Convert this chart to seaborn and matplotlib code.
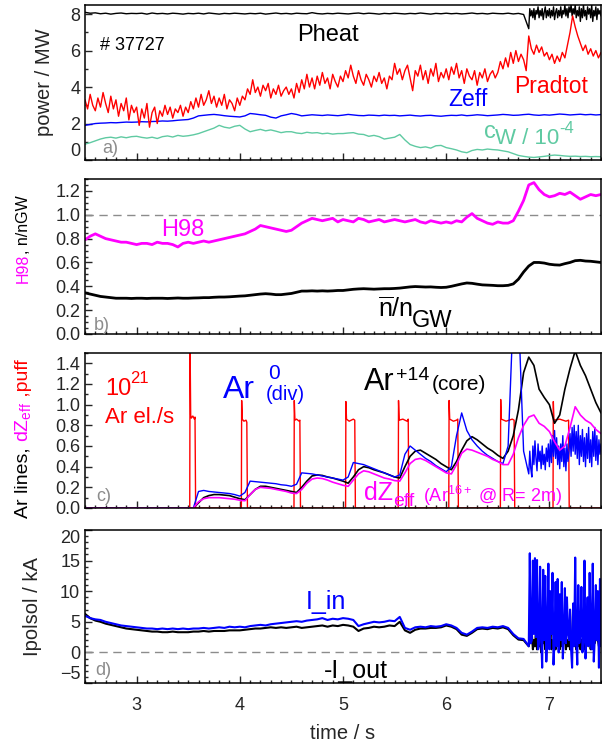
import numpy as np
import matplotlib
matplotlib.use("Agg")
import matplotlib.pyplot as plt
import seaborn as sns
from matplotlib.ticker import MultipleLocator

# ---------------------------------------------------------------------------
# data (# 37727), time in s
# ---------------------------------------------------------------------------
t_coarse = np.round(np.arange(2.5, 7.5001, 0.05), 3)      # 101 samples
t_rad = np.round(np.arange(2.5, 7.5001, 0.025), 3)        # 201 samples
t_fast = np.round(np.arange(6.80, 7.5001, 0.01), 3)       # 71 samples
t_split = np.concatenate([t_coarse[:86], t_fast])         # 2.5..6.75 + fast part

# a) power / MW
pheat = [
    8.10, 8.05, 8.07, 8.02, 8.05, 8.00, 8.04, 8.06, 8.02, 8.04,
    8.03, 8.05, 8.00, 8.06, 8.02, 8.04, 8.01, 8.05, 8.03, 8.00,
    8.04, 8.02, 8.05, 8.01, 8.06, 8.03, 8.00, 8.04, 8.02, 8.05,
    8.03, 8.01, 8.04, 8.02, 8.05, 8.00, 8.03, 8.06, 8.02, 8.04,
    8.01, 8.05, 8.03, 8.02, 8.08, 8.03, 8.01, 8.04, 8.02, 8.05,
    8.03, 8.01, 8.04, 8.06, 8.02, 8.05, 8.03, 8.00, 8.04, 8.02,
    8.05, 8.03, 8.01, 8.04, 8.02, 8.06, 8.03, 8.00, 8.04, 8.02,
    8.05, 8.02, 8.04, 8.01, 8.03, 8.06, 8.02, 8.04, 8.01, 8.05,
    8.03, 8.02, 8.05, 8.01, 8.04, 7.98,
    7.2, 8.3, 7.9, 8.2, 7.8, 8.3, 7.7, 8.2, 8.0, 8.4,
    7.8, 8.2, 7.9, 8.3, 7.7, 8.1, 8.4, 7.8, 8.2, 7.9,
    8.3, 7.8, 8.2, 7.9, 8.4, 7.7, 8.1, 8.3, 7.8, 8.2,
    7.9, 8.4, 7.8, 8.2, 8.0, 8.5, 7.9, 8.3, 7.8, 8.4,
    8.1, 8.5, 7.9, 8.3, 8.0, 8.5, 7.8, 8.2, 7.9, 8.4,
    7.6, 8.3, 7.8, 8.5, 7.9, 8.2, 7.7, 8.4, 8.0, 8.3,
    7.8, 8.5, 7.6, 8.2, 7.9, 8.4, 7.7, 8.3, 8.0, 8.2,
    7.9]
pradtot = [
    3.3, 2.8, 3.6, 3.0, 2.7, 3.4, 2.9, 3.7, 3.1, 2.6,
    3.5, 2.8, 3.3, 2.4, 3.1, 2.7, 3.4, 2.2, 3.0, 2.6,
    2.9, 1.9, 2.8, 2.3, 3.1, 1.8, 2.6, 2.9, 2.0, 2.7,
    2.4, 3.0, 2.5, 2.9, 2.3, 2.8, 2.6, 3.0, 2.4, 2.9,
    2.6, 3.2, 2.8, 3.4, 2.9, 3.6, 3.0, 3.3, 3.8, 3.1,
    3.5, 2.9, 3.4, 3.0, 3.6, 2.8, 3.3, 3.1, 2.7, 3.4,
    3.0, 3.5, 3.3, 3.9, 3.6, 4.4, 3.7, 4.0, 3.5, 4.1,
    3.8, 4.2, 3.4, 3.9, 3.6, 4.1, 3.5, 3.8, 4.0, 3.6,
    3.9, 3.4, 4.2, 3.7, 4.4, 3.9, 4.7, 4.0, 4.5, 3.9,
    4.6, 4.1, 4.8, 4.2, 4.5, 3.9, 4.7, 4.3, 4.0, 4.6,
    4.3, 4.9, 4.5, 5.2, 4.6, 4.2, 4.9, 4.4, 4.1, 4.7,
    4.4, 4.0, 4.6, 4.3, 4.8, 4.2, 4.5, 3.9, 4.6, 4.4,
    5.3, 4.7, 5.0, 4.4, 4.9, 5.2, 4.5, 3.8, 4.9, 4.6,
    5.2, 4.4, 4.9, 4.2, 5.0, 4.6, 5.3, 4.3, 4.8, 4.5,
    5.0, 4.4, 5.1, 4.7, 5.3, 4.5, 4.9, 4.2, 5.0, 4.6,
    4.4, 4.9, 4.1, 4.8, 4.5, 5.0, 4.3, 4.7, 4.9, 4.5,
    4.8, 5.4, 5.0, 5.6, 5.1, 5.9, 5.3, 6.0, 5.4, 5.8,
    5.5, 4.9, 6.8, 6.1, 5.8, 6.3, 5.9, 6.2, 5.7, 5.9,
    5.5, 5.8, 5.3, 5.7, 5.4, 5.9, 5.6, 6.3, 7.0, 7.9,
    7.3, 6.8, 6.4, 6.0, 6.3, 5.8, 6.1, 5.7, 6.0, 5.6,
    5.9]
zeff = [
    1.90, 1.95, 2.00, 2.02, 2.03, 2.05, 2.04, 2.06, 2.08, 2.07,
    2.08, 2.10, 2.09, 2.11, 2.12, 2.14, 2.13, 2.15, 2.18, 2.20,
    2.22, 2.30, 2.42, 2.45, 2.48, 2.50, 2.47, 2.43, 2.40, 2.38,
    2.36, 2.42, 2.55, 2.52, 2.48, 2.45, 2.35, 2.30, 2.42, 2.48,
    2.55, 2.50, 2.42, 2.45, 2.48, 2.46, 2.44, 2.47, 2.45, 2.43,
    2.46, 2.50, 2.47, 2.44, 2.43, 2.46, 2.45, 2.43, 2.46, 2.44,
    2.45, 2.42, 2.44, 2.46, 2.43, 2.41, 2.44, 2.45, 2.42, 2.40,
    2.43, 2.45, 2.44, 2.47, 2.43, 2.45, 2.48, 2.46, 2.43, 2.45,
    2.47, 2.50, 2.48, 2.45, 2.46, 2.49, 2.51, 2.47, 2.45, 2.48,
    2.46, 2.49, 2.52, 2.50, 2.47, 2.49, 2.51, 2.48, 2.50, 2.47,
    2.49]
cw = [
    0.87, 0.95, 1.05, 1.15, 1.22, 1.25, 1.20, 1.27, 1.22, 1.28,
    1.30, 1.24, 1.20, 1.25, 1.18, 1.28, 1.32, 1.26, 1.35, 1.30,
    1.33, 1.38, 1.45, 1.55, 1.65, 1.75, 1.90, 1.80, 1.75, 1.85,
    1.90, 1.70, 1.55, 1.62, 1.68, 1.60, 1.65, 1.58, 1.50, 1.55,
    1.55, 1.48, 1.45, 1.52, 1.48, 1.50, 1.44, 1.47, 1.42, 1.45,
    1.45, 1.48, 1.50, 1.42, 1.40, 1.30, 1.35, 1.28, 1.15, 1.20,
    1.25, 1.40, 1.10, 0.85, 0.75, 0.68, 0.72, 0.65, 0.78, 0.80,
    0.68, 0.62, 0.55, 0.45, 0.40, 0.52, 0.58, 0.55, 0.60, 0.57,
    0.55, 0.50, 0.45, 0.35, 0.25, 0.20, 0.16, 0.14, 0.17, 0.20,
    0.24, 0.27, 0.25, 0.22, 0.20, 0.21, 0.19, 0.20, 0.18, 0.19,
    0.18]

# b) H98 and line averaged density / Greenwald
h98 = [
    0.79, 0.82, 0.84, 0.82, 0.80, 0.79, 0.78, 0.77, 0.77, 0.76,
    0.75, 0.76, 0.76, 0.75, 0.77, 0.76, 0.76, 0.75, 0.73, 0.76,
    0.77, 0.76, 0.77, 0.78, 0.77, 0.78, 0.79, 0.80, 0.81, 0.82,
    0.83, 0.84, 0.86, 0.88, 0.91, 0.90, 0.89, 0.88, 0.87, 0.86,
    0.87, 0.90, 0.93, 0.95, 0.97, 0.96, 0.95, 0.96, 0.97, 0.94,
    0.96, 0.95, 0.94, 0.97, 0.96, 0.94, 0.95, 0.96, 0.94, 0.95,
    0.96, 0.95, 0.94, 0.95, 0.96, 0.94, 0.93, 0.95, 0.94, 0.93,
    0.94, 0.93, 0.95, 0.94, 0.98, 1.01, 0.97, 0.95, 0.93, 0.92,
    0.94, 0.93, 0.93, 0.95, 1.03, 1.12, 1.25, 1.27, 1.21, 1.17,
    1.15, 1.16, 1.18, 1.17, 1.19, 1.16, 1.13, 1.15, 1.17, 1.16,
    1.17]
n_gw = [
    0.345, 0.335, 0.325, 0.315, 0.310, 0.305, 0.300, 0.300, 0.300, 0.298,
    0.300, 0.300, 0.298, 0.300, 0.300, 0.300, 0.298, 0.300, 0.302, 0.300,
    0.300, 0.302, 0.303, 0.305, 0.305, 0.308, 0.310, 0.310, 0.312, 0.315,
    0.318, 0.320, 0.325, 0.330, 0.335, 0.338, 0.335, 0.330, 0.330, 0.335,
    0.340, 0.350, 0.360, 0.360, 0.362, 0.360, 0.362, 0.360, 0.362, 0.365,
    0.365, 0.370, 0.375, 0.378, 0.380, 0.378, 0.376, 0.378, 0.380, 0.380,
    0.382, 0.385, 0.390, 0.395, 0.398, 0.396, 0.394, 0.395, 0.392, 0.390,
    0.392, 0.400, 0.410, 0.420, 0.428, 0.425, 0.418, 0.412, 0.410, 0.408,
    0.405, 0.405, 0.408, 0.420, 0.460, 0.520, 0.570, 0.600, 0.600, 0.595,
    0.585, 0.580, 0.578, 0.590, 0.600, 0.615, 0.618, 0.612, 0.610, 0.605,
    0.600]

# c) Ar puff (breakpoints) and Ar lines
puff_t = [2.500, 3.515, 3.518, 3.524, 3.530, 3.545, 3.560, 3.566, 3.572,
          4.015, 4.018, 4.024, 4.040, 4.060, 4.068, 4.074,
          4.525, 4.528, 4.534, 4.550, 4.575, 4.582, 4.588,
          5.025, 5.028, 5.034, 5.060, 5.100, 5.114, 5.120,
          5.535, 5.538, 5.544, 5.580, 5.620, 5.632, 5.638,
          6.025, 6.028, 6.034, 6.070, 6.100, 6.112, 6.118,
          6.525, 6.528, 6.534, 6.580, 6.640, 6.658, 6.664,
          7.035, 7.038, 7.044, 7.100, 7.160, 7.186, 7.192, 7.500]
puff_v = [0.0, 0.0, 1.60, 0.90, 0.87, 0.89, 0.86, 0.88, 0.0,
          0.0, 1.04, 0.86, 0.84, 0.85, 0.83, 0.0,
          0.0, 1.04, 0.85, 0.86, 0.84, 0.85, 0.0,
          0.0, 1.03, 0.86, 0.84, 0.86, 0.85, 0.0,
          0.0, 1.04, 0.85, 0.86, 0.84, 0.86, 0.0,
          0.0, 1.04, 0.86, 0.84, 0.85, 0.86, 0.0,
          0.0, 1.05, 0.86, 0.84, 0.86, 0.85, 0.0,
          0.0, 1.03, 0.85, 0.86, 0.84, 0.85, 0.0, 0.0]
ar14_core = [0.0] * 22 + [
    0.05, 0.10, 0.12, 0.13, 0.13, 0.125, 0.12, 0.105, 0.09, 0.08,
    0.13, 0.18, 0.21, 0.21, 0.20, 0.19, 0.18, 0.17, 0.16, 0.15,
    0.20, 0.26, 0.31, 0.32, 0.315, 0.30, 0.29, 0.275, 0.26, 0.24,
    0.30, 0.37, 0.40, 0.39, 0.37, 0.355, 0.34, 0.32, 0.30, 0.29,
    0.40, 0.50, 0.55, 0.56, 0.53, 0.50, 0.47, 0.43, 0.40, 0.37,
    0.45, 0.56, 0.65, 0.69, 0.66, 0.62, 0.58, 0.55, 0.51, 0.48,
    0.55, 0.70, 0.95, 1.31, 1.46, 1.38, 1.15, 1.07, 1.00, 0.82,
    0.90, 1.15, 1.35, 1.52, 1.38, 1.28, 1.15, 1.02, 0.92]
dzeff = [0.0] * 22 + [
    0.06, 0.09, 0.10, 0.10, 0.10, 0.095, 0.09, 0.085, 0.075, 0.07,
    0.13, 0.18, 0.20, 0.195, 0.19, 0.18, 0.17, 0.16, 0.145, 0.14,
    0.18, 0.24, 0.28, 0.29, 0.285, 0.27, 0.25, 0.235, 0.22, 0.21,
    0.27, 0.33, 0.36, 0.35, 0.33, 0.31, 0.29, 0.28, 0.265, 0.26,
    0.34, 0.43, 0.47, 0.48, 0.46, 0.43, 0.40, 0.37, 0.34, 0.33,
    0.42, 0.53, 0.57, 0.56, 0.54, 0.52, 0.50, 0.47, 0.45, 0.42,
    0.42, 0.52, 0.68, 0.80, 0.88, 0.90, 0.82, 0.79, 0.74, 0.64,
    0.56, 0.60, 0.78, 0.98, 0.90, 0.85, 0.82, 0.76, 0.72]
ar0_div = [0.0] * 22 + [
    0.16, 0.17, 0.16, 0.155, 0.15, 0.145, 0.14, 0.13, 0.115, 0.15,
    0.26, 0.255, 0.25, 0.245, 0.24, 0.235, 0.225, 0.22, 0.21, 0.23,
    0.34, 0.335, 0.33, 0.32, 0.31, 0.30, 0.29, 0.28, 0.27, 0.30,
    0.44, 0.43, 0.42, 0.40, 0.38, 0.36, 0.34, 0.32, 0.30, 0.32,
    0.52, 0.60, 0.56, 0.52, 0.48, 0.45, 0.41, 0.38, 0.35, 0.40,
    0.70, 0.92, 0.75, 0.66, 0.60, 0.55, 0.51, 0.48, 0.45, 0.43,
    0.60, 1.90, 1.90, 0.55,
    0.33, 0.55, 0.38, 0.30, 0.60, 0.42, 0.65, 0.48, 0.36, 0.62,
    0.45, 0.55, 0.38, 0.60, 0.42, 0.52, 0.37, 0.58, 0.45, 0.62,
    0.40, 0.66, 0.44, 0.70, 0.50, 0.75, 0.48, 0.68, 0.42, 0.60,
    0.38, 0.62, 0.45, 0.70, 0.40, 0.58, 0.36, 0.62, 0.45, 0.55,
    0.72, 0.50, 0.78, 0.55, 0.80, 0.52, 0.74, 0.48, 0.80, 0.42,
    0.70, 0.50, 0.76, 0.45, 0.68, 0.40, 0.72, 0.48, 0.78, 0.44,
    0.66, 0.40, 0.74, 0.50, 0.78, 0.46, 0.70, 0.42, 0.66, 0.52,
    0.62]

# d) Ipolsol / kA
i_out = [
    6.3, 5.6, 5.2, 5.0, 4.7, 4.5, 4.3, 4.1, 3.9, 3.8,
    3.7, 3.6, 3.5, 3.4, 3.4, 3.3, 3.3, 3.4, 3.3, 3.3,
    3.3, 3.4, 3.4, 3.5, 3.4, 3.5, 3.5, 3.5, 3.6, 3.6,
    3.6, 3.7, 3.8, 3.9, 3.9, 4.0, 4.1, 4.0, 4.1, 4.0,
    4.1, 4.2, 4.0, 4.1, 4.2, 4.3, 4.4, 4.2, 4.4, 4.3,
    4.5, 4.4, 4.2, 3.5, 3.9, 4.0, 4.2, 4.1, 4.2, 4.4,
    4.3, 5.0, 3.6, 3.2, 3.7, 3.9, 3.9, 4.0, 4.0, 4.1,
    4.4, 4.2, 3.8, 2.9, 2.7, 3.2, 3.8, 3.9, 3.8, 4.0,
    3.9, 4.1, 3.8, 2.8, 2.1, 2.0,
    1.0, 2.5, 1.5, 3.0, 0.5, 2.0, 1.0, 3.5, 0.5, 2.0,
    1.0, 2.5, 0.0, 3.0, 1.5, 2.0, 0.5, 3.0, 1.0, 2.5,
    1.5, 3.0, 0.5, 2.0, 1.0, 2.5, 0.5, 2.0, 1.5, 3.0,
    0.5, 2.5, 1.0, 2.0, 1.5, 3.0, 0.5, 2.0, 1.0, 2.5,
    0.5, 2.0, 1.0, 7.8, 1.5, 2.5, 0.5, 2.0, 1.0, 3.0,
    0.5, 2.0, 1.5, 3.0, 0.5, 2.5, 1.0, 2.0, 1.5, 3.0,
    0.5, 2.5, 1.0, 2.0, 1.5, 2.5, 10.0, 2.0, 1.0, 2.5,
    1.5]
i_in = [
    6.0, 5.6, 5.4, 5.3, 5.0, 4.8, 4.6, 4.4, 4.3, 4.2,
    4.1, 4.0, 3.9, 3.9, 3.8, 3.9, 3.8, 3.9, 3.8, 3.9,
    3.8, 3.9, 3.9, 4.0, 3.9, 4.0, 4.1, 4.0, 4.2, 4.1,
    4.2, 4.1, 4.3, 4.4, 4.5, 4.4, 4.6, 4.7, 4.8, 4.9,
    5.0, 5.1, 5.0, 5.2, 5.3, 5.4, 5.6, 5.3, 5.5, 5.4,
    5.6, 5.5, 5.3, 4.3, 4.6, 4.8, 5.0, 4.9, 5.0, 5.2,
    5.1, 5.8, 4.0, 3.7, 4.1, 4.2, 4.1, 4.3, 4.2, 4.3,
    4.6, 4.4, 4.0, 3.2, 2.9, 3.4, 4.0, 4.1, 4.0, 4.2,
    4.1, 4.3, 4.0, 3.0, 2.3, 2.2,
    1.0, 16.2, 1.5, 2.0, 15.0, 3.0, 15.4, 2.5, 15.1, 0.5,
    1.5, 14.0, 2.5, -2.5, 13.5, 2.0, 12.5, -1.5, 3.0, 14.5,
    0.5, 10.0, 3.0, 13.0, -2.0, 2.0, 11.5, 1.0, 12.0, 0.0,
    9.5, 2.0, 11.5, -1.0, 2.5, 10.5, 1.5, 9.0, 3.0, 2.0,
    7.0, 0.5, -2.5, 8.0, 1.0, 15.5, 2.5, -2.0, 11.0, 1.5,
    3.0, 10.7, 0.0, 2.0, 15.0, -1.0, 3.0, 9.0, 1.0, 13.0,
    3.0, 0.5, 14.5, -1.5, 2.5, 11.0, 2.0, 10.0, -2.5, 12.0,
    1.0]

# ---------------------------------------------------------------------------
sns.set_style("ticks")
plt.rcParams["font.family"] = ["Liberation Sans", "DejaVu Sans"]
plt.rcParams["mathtext.fontset"] = "custom"
plt.rcParams["mathtext.rm"] = "Liberation Sans"
plt.rcParams["mathtext.it"] = "Liberation Sans:italic"
plt.rcParams["mathtext.default"] = "regular"

RED, BLUE, MAG, GREEN, GREY = "#ff0000", "#0000ff", "#ff00ff", "#5fcaa2", "#8c8c8c"
W_PX, H_PX = 602, 742

fig = plt.figure(figsize=(W_PX / 100, H_PX / 100), dpi=100)


def panel(top, bottom):
    # axes box from pixel rows of the reference
    return fig.add_axes([85 / W_PX, 1 - bottom / H_PX, 516 / W_PX, (bottom - top) / H_PX])


ax_a = panel(5, 160)
ax_b = panel(179, 334)
ax_c = panel(353, 508)
ax_d = panel(530, 683)
axes = [ax_a, ax_b, ax_c, ax_d]


def trace(ax, x, y, color, lw=1.0):
    sns.lineplot(x=x, y=y, ax=ax, color=color, lw=lw, estimator=None,
                 sort=False, legend=False)


def note(ax, x, y, s, color="black", size=16, va="baseline"):
    ax.text(x, y, s, color=color, fontsize=size, ha="left", va=va)


# a) powers
trace(ax_a, t_split, pheat, "black", 1.0)
trace(ax_a, t_coarse, zeff, BLUE, 1.0)
trace(ax_a, t_coarse, cw, GREEN, 1.0)
trace(ax_a, t_rad, pradtot, RED, 1.0)
ax_a.set_ylim(0, 8.5)
ax_a.yaxis.set_major_locator(MultipleLocator(2))
ax_a.yaxis.set_minor_locator(MultipleLocator(1))
note(ax_a, 4.556, 6.54, "Pheat", size=17)
note(ax_a, 2.645, 6.03, "# 37727", size=13)
note(ax_a, 6.66, 3.66, "Pradtot", RED, 16.5)
note(ax_a, 6.02, 2.96, "Zeff", BLUE, 16.5)
note(ax_a, 6.37, 1.19, "c", GREEN, 17)
note(ax_a, 6.47, 0.88, "W / 10", GREEN, 16)
note(ax_a, 7.10, 1.74, "-4", GREEN, 12, va="center")
note(ax_a, 2.67, 0.37, "a)", GREY, 13)
ax_a.set_ylabel("power / MW", fontsize=14.5)
ax_a.yaxis.set_label_coords(-0.060, 0.5)

# b) confinement and density
ax_b.axhline(1.0, color=GREY, lw=1.0, ls=(0, (6, 4)))
trace(ax_b, t_coarse, h98, MAG, 2.0)
trace(ax_b, t_coarse, n_gw, "black", 2.0)
ax_b.set_ylim(0, 1.3)
ax_b.yaxis.set_major_locator(MultipleLocator(0.2))
ax_b.yaxis.set_minor_locator(MultipleLocator(0.05))
note(ax_b, 3.234, 0.875, "H98", MAG, 17, va="center")
note(ax_b, 5.343, 0.145, r"$\overline{n}$/n", "black", 18)
note(ax_b, 5.665, 0.061, "GW", "black", 17)
note(ax_b, 2.587, 0.03, "b)", GREY, 13)

# c) argon
trace(ax_c, puff_t, puff_v, RED, 1.0)
trace(ax_c, t_coarse, ar14_core, "black", 1.2)
trace(ax_c, t_split, ar0_div, BLUE, 1.0)
trace(ax_c, t_coarse, dzeff, MAG, 1.2)
ax_c.set_ylim(0, 1.5)
ax_c.yaxis.set_major_locator(MultipleLocator(0.2))
ax_c.yaxis.set_minor_locator(MultipleLocator(0.1))
note(ax_c, 2.693, 1.097, "10", RED, 17)
note(ax_c, 2.934, 1.258, "21", RED, 12, va="center")
note(ax_c, 2.693, 0.823, "Ar el./s", RED, 16)
note(ax_c, 3.833, 1.065, "Ar", BLUE, 23)
note(ax_c, 4.276, 1.30, "0", BLUE, 15, va="center")
note(ax_c, 4.25, 1.048, "(div)", BLUE, 14.5)
note(ax_c, 5.20, 1.145, "Ar", "black", 22)
note(ax_c, 5.51, 1.28, "+14", "black", 14, va="center")
note(ax_c, 5.86, 1.145, "(core)", "black", 15)
note(ax_c, 5.204, 0.08, "dZ", MAG, 18)
note(ax_c, 5.49, 0.015, "eff", MAG, 14)
note(ax_c, 5.777, 0.055, r"(Ar$^{16+}$ @ R= 2m)", MAG, 13)
note(ax_c, 2.613, 0.064, "c)", GREY, 13)

# d) divertor currents
ax_d.axhline(0.0, color=GREY, lw=1.0, ls=(0, (6, 4)))
trace(ax_d, t_split, i_out, "black", 1.5)
trace(ax_d, t_split, i_in, BLUE, 1.5)
ax_d.set_ylim(-5, 20)
ax_d.yaxis.set_major_locator(MultipleLocator(5))
ax_d.yaxis.set_minor_locator(MultipleLocator(1))
note(ax_d, 4.64, 7.1, "I_in", BLUE, 18)
note(ax_d, 4.813, -4.18, "-I_out", "black", 18)
note(ax_d, 2.596, -3.64, "d)", GREY, 13)
ax_d.set_ylabel("Ipolsol / kA", fontsize=14.5)
ax_d.yaxis.set_label_coords(-0.083, 0.5)
ax_d.set_xlabel("time / s", fontsize=14.5, labelpad=7)

for ax in axes:
    ax.set_xlim(2.5, 7.5)
    ax.xaxis.set_major_locator(MultipleLocator(1))
    ax.xaxis.set_minor_locator(MultipleLocator(0.1))
    ax.tick_params(which="both", direction="in", labelsize=13, width=1.0)
    ax.tick_params(which="major", length=5)
    ax.tick_params(which="minor", length=2.5)
    ax.tick_params(axis="x", pad=10)
    for sp in ax.spines.values():
        sp.set_linewidth(1.1)
        sp.set_color("black")
    if ax is not ax_d:
        ax.tick_params(labelbottom=False)
        ax.set_xlabel("")
    if ax is ax_b or ax is ax_c:
        ax.set_ylabel("")

# edge tick labels pulled inside the axis range where there is room
ax_a.get_yticklabels()[1].set_va("bottom")
ax_d.get_yticklabels()[1].set_va("bottom")
ax_d.get_yticklabels()[-2].set_va("top")

# multi-coloured y labels for b) and c)
renderer = fig.canvas.get_renderer()


def stacked_ylabel(x, y0, pieces, size):
    y = y0
    for s, c in pieces:
        t = fig.text(x, y, s, color=c, fontsize=size, rotation=90,
                     rotation_mode="anchor", ha="left", va="baseline")
        y += t.get_window_extent(renderer).height / fig.bbox.height


stacked_ylabel(28 / W_PX, 1 - 283 / H_PX, [("H98", MAG), (", n/nGW", "black")], 11.5)
stacked_ylabel(28 / W_PX, 1 - 518 / H_PX,
               [("Ar lines, ", "black"), ("dZ$_{eff}$", MAG), (" ,puff", RED)], 14)

fig.savefig("out.png", dpi=100)
